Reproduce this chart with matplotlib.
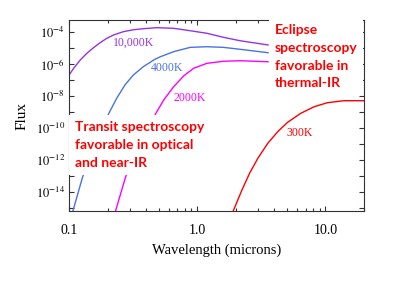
import matplotlib
matplotlib.use('Agg')
import matplotlib.pyplot as plt
import matplotlib.transforms as mtrans
from matplotlib.ticker import FixedLocator, FixedFormatter, LogLocator, NullLocator, NullFormatter, FuncFormatter
import numpy as np

plt.rcParams['font.family'] = 'serif'
plt.rcParams['font.serif'] = ['Liberation Serif', 'DejaVu Serif']
plt.rcParams['mathtext.fontset'] = 'stix'

# curves: wavelength (microns) and log10(flux)
wl_10000 = [0.1013, 0.1087, 0.1224, 0.1379, 0.1554, 0.1748, 0.1971, 0.2221, 0.2655, 0.3174,
            0.3795, 0.4811, 0.6551, 0.8824, 1.189, 1.599, 2.154, 3.570]
lf_10000 = [-6.61, -6.25, -5.73, -5.31, -4.96, -4.65, -4.375, -4.17, -3.96, -3.84,
            -3.775, -3.71, -3.75, -3.90, -4.06, -4.31, -4.525, -4.79]

wl_4000 = [0.107, 0.1278, 0.2032, 0.2355, 0.2732, 0.3174, 0.3795, 0.4667, 0.5166, 0.6551,
           0.8824, 1.189, 1.599, 2.154, 3.570]
lf_4000 = [-15.2, -13.03, -9.11, -8.125, -7.29, -6.67, -6.15, -5.69, -5.525, -5.21,
           -4.94, -4.90, -4.94, -5.06, -5.275]

wl_2000 = [0.230, 0.2766, 0.4726, 0.548, 0.6551, 0.7831, 0.9361, 1.189, 1.599, 2.154, 3.570]
lf_2000 = [-15.2, -13.03, -9.11, -8.23, -7.40, -6.73, -6.25, -5.94, -5.81, -5.775, -5.84]

wl_300 = [1.901, 2.205, 2.562, 2.971, 3.551, 4.246, 5.074, 6.435, 8.174, 10.36, 13.96, 19.95]
lf_300 = [-15.21, -13.96, -12.81, -11.875, -10.94, -10.21, -9.625, -9.06, -8.65, -8.40, -8.275, -8.275]

curves = [
    (wl_10000, lf_10000, '#9334e6', '10,000K', (0.319, 43)),
    (wl_4000, lf_4000, '#4a72e2', '4000K', (0.585, 68)),
    (wl_2000, lf_2000, '#ff00ff', '2000K', (0.867, 98)),
    (wl_300, lf_300, '#ff0000', '300K', (6.28, 133)),
]

xticks = [0.1, 1.0, 10.0]
xtick_labels = ['0.1', '1.0', '10.0']

fig = plt.figure(figsize=(4.15, 2.9), dpi=100)
ax = fig.add_axes([69 / 415, 1 - 211 / 290, 295 / 415, 191 / 290])
trans = mtrans.blended_transform_factory(ax.transData, ax.transAxes)

for wl, lf, col, name, (lx, ly) in curves:
    ax.plot(wl, 10.0 ** np.array(lf), color=col, lw=1.0)
    # label height given in pixels from the top of the figure
    ax.text(lx, 1 - (ly - 20) / 191, name, color=col, fontsize=8.5,
            ha='center', va='center', transform=trans)

ax.set_xscale('log')
ax.set_yscale('log')
ax.set_xlim(0.1, 20)
ax.set_ylim(10 ** -15.17, 10 ** -3.23)

ax.xaxis.set_major_locator(FixedLocator(xticks))
ax.xaxis.set_major_formatter(FixedFormatter(xtick_labels))
ax.xaxis.set_minor_locator(LogLocator(base=10, subs=range(2, 10), numticks=20))
ax.xaxis.set_minor_formatter(NullFormatter())

def ylab(v, pos):
    e = int(round(np.log10(v)))
    return r'$10^{%d}$' % e if e % 2 == 0 else ''

ax.yaxis.set_major_locator(FixedLocator(10.0 ** np.arange(-15, -3)))
ax.yaxis.set_major_formatter(FuncFormatter(ylab))
ax.yaxis.set_minor_locator(NullLocator())

ax.tick_params(which='both', direction='in', top=True, right=True, width=0.8, color='#333333')
ax.tick_params(which='major', length=3.5)
ax.tick_params(which='minor', length=2)
ax.tick_params(axis='x', labelsize=10, pad=9)
ax.tick_params(axis='y', labelsize=9, pad=3)
for s in ax.spines.values():
    s.set_linewidth(0.8)
    s.set_color('#333333')

ax.set_xlabel('Wavelength (microns)', fontsize=10.5, labelpad=5)
ax.set_ylabel('Flux', fontsize=11, labelpad=5)

box = dict(facecolor='white', edgecolor='none', boxstyle='square,pad=0.4')
fig.text(75 / 415, 1 - 121 / 290, 'Transit spectroscopy\nfavorable in optical\nand near-IR',
         color='#ff0000', fontsize=10, fontweight='bold', family='Lato',
         ha='left', va='top', linespacing=1.62, bbox=box)
fig.text(275 / 415, 1 - 24 / 290, 'Eclipse\nspectroscopy\nfavorable in\nthermal-IR',
         color='#ff0000', fontsize=10, fontweight='bold', family='Lato',
         ha='left', va='top', linespacing=1.58, bbox=box)

fig.savefig('out.png', dpi=100)
